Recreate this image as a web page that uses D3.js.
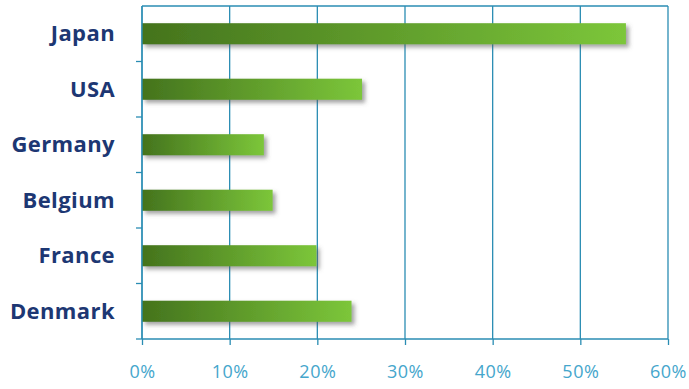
<!DOCTYPE html>
<html>
<head>
<meta charset="utf-8">
<script src="https://cdn.jsdelivr.net/npm/d3@7"></script>
<style>
  body { margin: 0; background: #fff; }
  .cat text { font-family: "Open Sans", sans-serif; font-weight: bold; font-size: 22px; letter-spacing: 0.4px; fill: #1d3773; }
  .xax text { font-family: "Open Sans", sans-serif; font-size: 18px; letter-spacing: 0.5px; fill: #45a6cc; }
</style>
</head>
<body>
<div id="chart"></div>
<script>
var countries = ["Japan", "USA", "Germany", "Belgium", "France", "Denmark"];
var shares = [55.2, 25.1, 13.9, 14.9, 19.9, 23.9];
var ticks = [0, 10, 20, 30, 40, 50, 60];

var margin = {top: 6, right: 21, bottom: 50, left: 142},
  width = 689 - margin.left - margin.right,
  height = 389 - margin.top - margin.bottom;

var svg = d3.select("#chart").append("svg")
  .attr("width", 689)
  .attr("height", 389);

var defs = svg.append("defs");
var grad = defs.append("linearGradient")
  .attr("id", "barGrad")
  .attr("x1", "0%").attr("x2", "100%")
  .attr("y1", "0%").attr("y2", "0%");
grad.append("stop").attr("offset", "0%").attr("stop-color", "#44731d");
grad.append("stop").attr("offset", "100%").attr("stop-color", "#7cc63a");

var shadow = defs.append("filter")
  .attr("id", "shadow")
  .attr("x", "-10%").attr("y", "-30%")
  .attr("width", "130%").attr("height", "180%");
shadow.append("feDropShadow")
  .attr("dx", 3).attr("dy", 3)
  .attr("stdDeviation", 2)
  .attr("flood-color", "#555")
  .attr("flood-opacity", 0.55);

var g = svg.append("g")
  .attr("transform", "translate(" + margin.left + "," + margin.top + ")");

var x = d3.scaleLinear().domain([0, 60]).range([0, width]);
var y = d3.scaleBand().domain(countries).range([0, height]).paddingInner(0.62).paddingOuter(0.31);
var band = d3.scaleBand().domain(countries).range([0, height]);

// vertical grid
g.selectAll("line.grid")
  .data(ticks)
  .enter().append("line")
  .attr("class", "grid")
  .attr("x1", function(d) { return x(d); })
  .attr("x2", function(d) { return x(d); })
  .attr("y1", 0)
  .attr("y2", height)
  .attr("stroke", "#2a8db3")
  .attr("stroke-width", 1.3);

// top frame line
g.append("line")
  .attr("x1", 0).attr("x2", width)
  .attr("y1", 0).attr("y2", 0)
  .attr("stroke", "#2a8db3")
  .attr("stroke-width", 1.3);

// left ticks between categories
g.selectAll("line.ytick")
  .data(countries)
  .enter().append("line")
  .attr("class", "ytick")
  .attr("x1", -6).attr("x2", 0)
  .attr("y1", function(d) { return band(d) + band.bandwidth(); })
  .attr("y2", function(d) { return band(d) + band.bandwidth(); })
  .attr("stroke", "#2a8db3")
  .attr("stroke-width", 1.3);

g.selectAll("rect.bar")
  .data(countries)
  .enter().append("rect")
  .attr("class", "bar")
  .attr("x", 0)
  .attr("y", function(d) { return y(d); })
  .attr("width", function(d, i) { return x(shares[i]); })
  .attr("height", y.bandwidth())
  .attr("fill", "url(#barGrad)")
  .attr("filter", "url(#shadow)");

// redraw the left axis line over the bars
g.append("line")
  .attr("x1", 0).attr("x2", 0)
  .attr("y1", 0).attr("y2", height)
  .attr("stroke", "#2a8db3")
  .attr("stroke-width", 1.3);

var xAxis = g.append("g")
  .attr("class", "xax")
  .attr("transform", "translate(0," + height + ")")
  .call(d3.axisBottom(x).tickValues(ticks).tickSize(6).tickPadding(20)
    .tickFormat(function(d) { return d + "%"; }));
xAxis.selectAll("line, path").attr("stroke", "#2a8db3").attr("stroke-width", 1.3);
xAxis.select("path").attr("d", "M0,0H" + width);

g.append("g")
  .attr("class", "cat")
  .selectAll("text")
  .data(countries)
  .enter().append("text")
  .attr("x", -27)
  .attr("y", function(d) { return band(d) + band.bandwidth() / 2; })
  .attr("dy", "0.35em")
  .attr("text-anchor", "end")
  .text(function(d) { return d; });
</script>
</body>
</html>
